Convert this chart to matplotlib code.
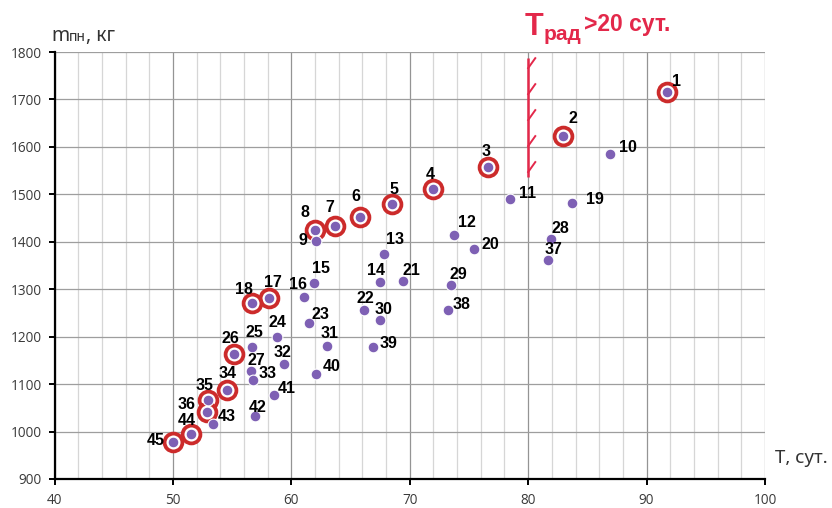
import numpy as np
import matplotlib
matplotlib.use("Agg")
import matplotlib.pyplot as plt

# ---------------- data ----------------
point_ids = list(range(1, 46))
T_days = [91.7, 82.9, 76.6, 72.0, 68.5, 65.8, 63.7, 62.0, 62.1, 86.9,
          78.5, 73.7, 67.8, 67.5, 61.9, 61.1, 58.1, 56.7, 83.7, 75.4,
          69.4, 66.1, 61.5, 58.8, 56.7, 55.2, 56.6, 81.9, 73.5, 67.5,
          63.0, 59.4, 56.8, 54.6, 53.0, 52.9, 81.7, 73.2, 66.9, 62.1,
          58.5, 56.9, 53.4, 51.5, 50.0]
m_kg = [1715, 1624, 1558, 1511, 1479, 1453, 1433, 1425, 1402, 1584,
        1490, 1415, 1375, 1316, 1314, 1284, 1281, 1270, 1481, 1385,
        1317, 1256, 1228, 1200, 1178, 1163, 1127, 1406, 1308, 1235,
        1181, 1142, 1109, 1088, 1067, 1041, 1362, 1256, 1178, 1121,
        1077, 1032, 1015, 994, 978]
circled_ids = [1, 2, 3, 4, 5, 6, 7, 8, 17, 18, 26, 34, 35, 36, 44, 45]

x_ticks = [40, 50, 60, 70, 80, 90, 100]
y_ticks = [900, 1000, 1100, 1200, 1300, 1400, 1500, 1600, 1700, 1800]
T_threshold = 80
threshold_range = (1537, 1787)

# label offsets (pixels, dx right, dy down) - styling only
label_off = {
    1: (10, -11), 2: (10, -17), 3: (-2, -15), 4: (-3, -15), 5: (2, -15),
    6: (-4, -20), 7: (-5, -19), 8: (-10, -17), 9: (-13, 0), 10: (18, -7),
    11: (17, -6), 12: (13, -12), 13: (11, -14), 14: (-4, -11), 15: (7, -14),
    16: (-6, -12), 17: (4, -16), 18: (-8, -14), 19: (23, -4), 20: (17, -4),
    21: (9, -11), 22: (2, -12), 23: (11, -9), 24: (0, -14), 25: (2, -15),
    26: (-4, -16), 27: (5, -11), 28: (10, -10), 29: (7, -11), 30: (3, -11),
    31: (3, -12), 32: (-2, -12), 33: (14, -6), 34: (0, -16), 35: (-4, -14),
    36: (-21, -8), 37: (5, -10), 38: (14, -6), 39: (15, -4), 40: (15, -8),
    41: (13, -7), 42: (3, -9), 43: (14, -8), 44: (-4, -14), 45: (-17, -1),
}

W, H = 832, 508
fig = plt.figure(figsize=(W / 100, H / 100), dpi=100)
fig.patch.set_facecolor("white")
ax = fig.add_axes([54.5 / W, (H - 479) / H, (765 - 54.5) / W, (479 - 52) / H])

ax.set_xlim(40, 100)
ax.set_ylim(900, 1800)
ax.set_xticks(x_ticks)
ax.set_yticks(y_ticks)
ax.set_xticks(np.arange(40, 101, 2), minor=True)

ax.grid(False)
ax.xaxis.grid(True, which="minor", color="#D6D6D6", lw=0.9, zorder=0)
ax.xaxis.grid(True, which="major", color="#949494", lw=0.9, zorder=0)
ax.yaxis.grid(True, which="major", color="#9E9E9E", lw=0.9, zorder=0)
ax.set_axisbelow(True)

for s in ["top", "right"]:
    ax.spines[s].set_visible(False)
for s in ["left", "bottom"]:
    ax.spines[s].set_color("black")
    ax.spines[s].set_linewidth(1.6)

ax.tick_params(axis="both", which="major", direction="out", length=4,
               width=1.4, color="black", labelsize=9.8, labelcolor="#3a3a3a")
ax.tick_params(axis="x", which="major", pad=6)
ax.tick_params(axis="y", which="major", pad=5)
ax.tick_params(axis="x", which="minor", length=0)
for lab in ax.get_xticklabels() + ax.get_yticklabels():
    lab.set_family("Open Sans")

# points
purple = "#7E60B4"
red_ring = "#CC2B2B"
Tc = [T_days[point_ids.index(i)] for i in circled_ids]
mc = [m_kg[point_ids.index(i)] for i in circled_ids]
ax.scatter(Tc, mc, s=165, facecolors="white", edgecolors=red_ring,
           linewidths=2.7, zorder=3)
ax.scatter(T_days, m_kg, s=60, color=purple, edgecolors="white",
           linewidths=0.8, zorder=4)

for pid, x, y in zip(point_ids, T_days, m_kg):
    dx, dy = label_off[pid]
    ax.annotate(str(pid), (x, y), xytext=(dx, -dy), textcoords="offset pixels",
                ha="center", va="center", fontsize=11.5, fontweight="bold",
                family="Liberation Sans", color="black", zorder=5)

# threshold line with hatches
crimson = "#E3284A"
ax.plot([T_threshold, T_threshold], threshold_range, color=crimson, lw=1.8,
        zorder=3, solid_capstyle="butt")
for yb in np.linspace(threshold_range[0] + 10, threshold_range[1] - 21, 5):
    ax.plot([T_threshold, T_threshold + 0.6], [yb, yb + 21], color=crimson,
            lw=1.4, zorder=3)

fig.canvas.draw()
renderer = fig.canvas.get_renderer()


def rich(parts, x, y):
    for txt, size, dy, kw in parts:
        t = fig.text(x / W, 1 - (y + dy) / H, txt, fontsize=size,
                     va="baseline", ha="left", **kw)
        bb = t.get_window_extent(renderer)
        x += bb.width


# y axis label
lab_kw = dict(family="Noto Sans", color="#333333")
rich([("m", 14, 0, lab_kw), ("пн", 10, 0, lab_kw), (", кг", 14, 0, lab_kw)],
     51, 41)

# x axis label
fig.text(775 / W, 1 - 463 / H, "T, сут.", fontsize=13.5, family="Noto Sans",
         color="#333333", va="baseline", ha="left")

# title annotation
title_kw = dict(family="Liberation Sans", fontweight="bold", color=crimson)
rich([("T", 22, 0, title_kw), ("рад", 15, 5, title_kw)], 525, 35)
fig.text(584 / W, 1 - 31 / H, ">20 сут.", fontsize=16.5, va="baseline",
         ha="left", **title_kw)

fig.savefig("out.png", dpi=100)
